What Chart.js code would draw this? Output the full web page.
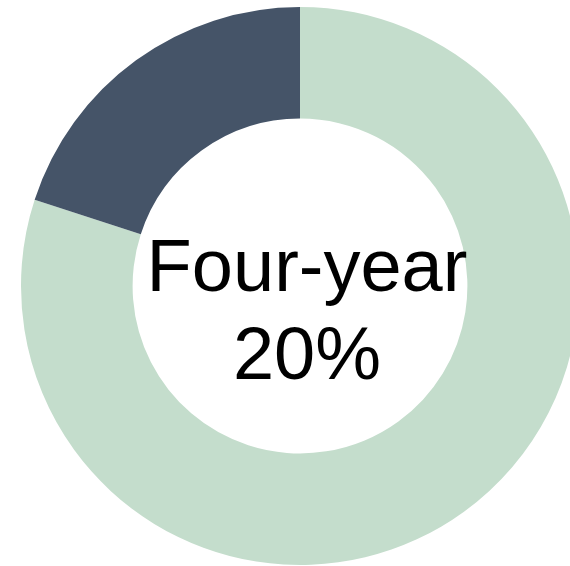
<!DOCTYPE html>
<html>
<head>
<meta charset="utf-8">
<script src="https://cdn.jsdelivr.net/npm/chart.js@4/dist/chart.umd.min.js"></script>
<style>
html,body{margin:0;padding:0;background:#fff;overflow:hidden;}
#wrap{position:absolute;left:0;top:0;width:600px;height:572px;}
</style>
</head>
<body>
<div id="wrap"><canvas id="c" width="600" height="572"></canvas></div>
<script>
const categories = ["Other", "Four-year"];
const values = [80, 20];
const colors = ["#C4DDCC", "#455468"];
const centerLines = ["Four-year", "20%"];

const centerText = {
  id: 'centerText',
  afterDraw(chart) {
    const ctx = chart.ctx;
    const meta = chart.getDatasetMeta(0).data[0];
    const cx = meta.x + 7, cy = meta.y;
    ctx.save();
    ctx.fillStyle = '#000';
    ctx.font = '74px "Liberation Sans", Arial, sans-serif';
    ctx.textAlign = 'center';
    ctx.textBaseline = 'alphabetic';
    ctx.fillText(centerLines[0], cx, cy + 5);
    ctx.fillText(centerLines[1], cx, cy + 93);
    ctx.restore();
  }
};

new Chart(document.getElementById('c'), {
  type: 'doughnut',
  data: {
    labels: categories,
    datasets: [{
      data: values,
      backgroundColor: colors,
      borderWidth: 0
    }]
  },
  options: {
    responsive: false,
    animation: false,
    cutout: '60%',
    layout: { padding: { top: 7, bottom: 7, left: 21, right: 21 } },
    plugins: { legend: { display: false }, tooltip: { enabled: false } }
  },
  plugins: [centerText]
});
</script>
</body>
</html>
